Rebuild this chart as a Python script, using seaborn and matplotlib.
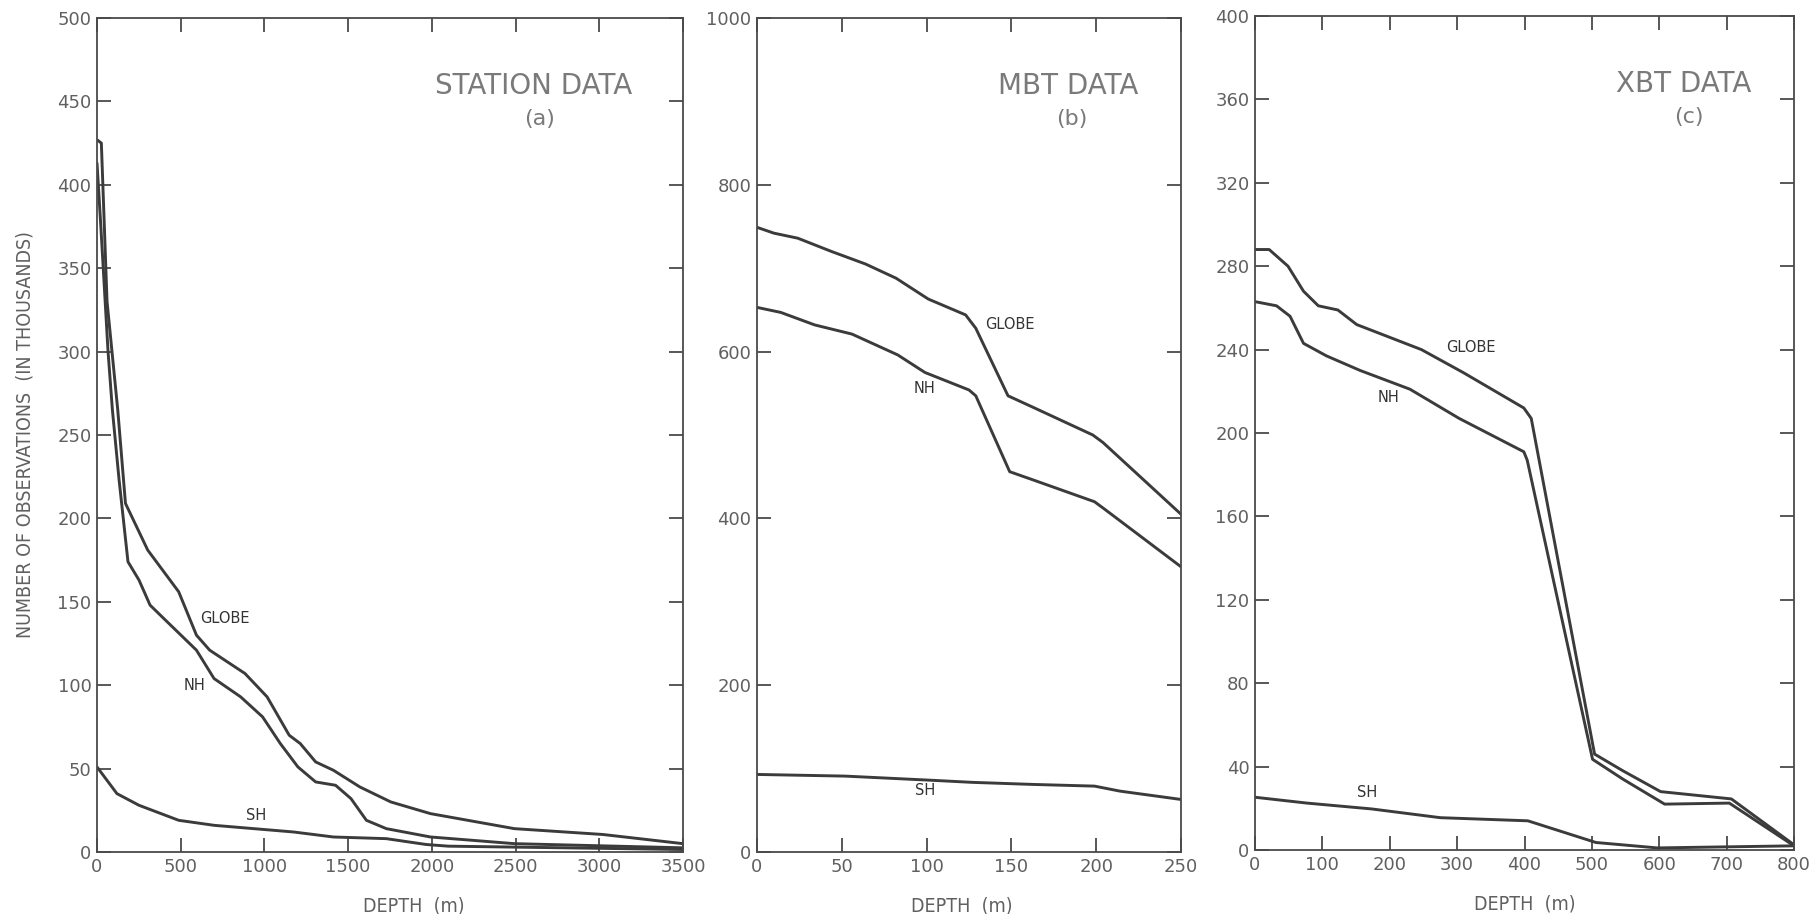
import matplotlib
matplotlib.use("Agg")
import matplotlib.pyplot as plt
import seaborn as sns
import pandas as pd

# ---------------- data ----------------
# (a) STATION DATA  depth in m, counts in thousands
st_globe_depth = [0, 26, 60, 124, 170, 303, 488, 594, 673, 884, 1016, 1148, 1214, 1306, 1412, 1570, 1755, 1992, 2493, 3021, 3500]
st_globe_val = [427, 425, 330, 265, 209, 181, 156, 130, 121, 107, 93, 70, 65, 54, 49, 39, 30, 23, 14, 10.5, 5]
st_nh_depth = [0, 20, 66, 92, 132, 185, 251, 317, 409, 594, 699, 858, 989, 1095, 1200, 1306, 1425, 1517, 1609, 1728, 1992, 2493, 3500]
st_nh_val = [413, 380, 300, 265, 223, 174, 163, 148, 139, 121, 104, 93, 81, 65, 51, 42, 40, 32, 19, 14, 9, 5, 2.5]
st_sh_depth = [0, 119, 251, 488, 699, 1174, 1412, 1728, 1966, 2098, 3500]
st_sh_val = [51, 35, 28, 19, 16, 12, 9, 8, 4.5, 3.5, 1.5]

# (b) MBT DATA
mbt_globe_depth = [0, 10, 24, 44, 64, 82, 101, 123, 129, 148, 163, 198, 204, 250]
mbt_globe_val = [749, 742, 736, 720, 705, 688, 663, 644, 628, 547, 533, 500, 491, 405]
mbt_nh_depth = [0, 14, 34, 56, 83, 99, 125, 129, 149, 163, 199, 205, 250]
mbt_nh_val = [653, 647, 632, 621, 596, 575, 554, 547, 456, 446, 420, 411, 342]
mbt_sh_depth = [0, 52, 103, 127, 163, 199, 214, 250]
mbt_sh_val = [93, 91, 86, 83.5, 81, 79, 73, 63]

# (c) XBT DATA
xbt_globe_depth = [0, 21, 49, 72, 94, 123, 151, 247, 309, 399, 410, 504, 546, 602, 707, 800]
xbt_globe_val = [288, 288, 280, 268, 261, 259, 252, 240, 229, 212, 207, 46, 38, 28, 24.5, 2.5]
xbt_nh_depth = [0, 32, 52, 72, 106, 156, 230, 303, 399, 404, 501, 546, 608, 704, 800]
xbt_nh_val = [263, 261, 256, 243, 237, 230, 221, 207, 191, 187, 43.5, 34, 22, 22.5, 2]
xbt_sh_depth = [0, 77, 173, 207, 275, 405, 506, 597, 800]
xbt_sh_val = [25.3, 22.5, 19.7, 18.3, 15.5, 14, 3.6, 1, 2]

panel_titles = ["STATION DATA", "MBT DATA", "XBT DATA"]
panel_tags = ["(a)", "(b)", "(c)"]
series_names = ["GLOBE", "NH", "SH"]
x_limits = [(0, 3500), (0, 250), (0, 800)]
y_limits = [(0, 500), (0, 1000), (0, 400)]
x_ticks = [[0, 500, 1000, 1500, 2000, 2500, 3000, 3500],
           [0, 50, 100, 150, 200, 250],
           [0, 100, 200, 300, 400, 500, 600, 700, 800]]
y_ticks = [[0, 50, 100, 150, 200, 250, 300, 350, 400, 450, 500],
           [0, 200, 400, 600, 800, 1000],
           [0, 40, 80, 120, 160, 200, 240, 280, 320, 360, 400]]
# label anchor positions (data coords) for series names
label_pos = [
    {"GLOBE": (765, 140), "NH": (580, 100), "SH": (950, 22)},
    {"GLOBE": (149, 633), "NH": (99, 556), "SH": (99, 74)},
    {"GLOBE": (320, 241), "NH": (198, 217), "SH": (167, 27.5)},
]
title_xfrac = [0.745, 0.733, 0.795]
xlabel_xfrac = [0.54, 0.483, 0.50]

panels = [
    {"GLOBE": (st_globe_depth, st_globe_val), "NH": (st_nh_depth, st_nh_val), "SH": (st_sh_depth, st_sh_val)},
    {"GLOBE": (mbt_globe_depth, mbt_globe_val), "NH": (mbt_nh_depth, mbt_nh_val), "SH": (mbt_sh_depth, mbt_sh_val)},
    {"GLOBE": (xbt_globe_depth, xbt_globe_val), "NH": (xbt_nh_depth, xbt_nh_val), "SH": (xbt_sh_depth, xbt_sh_val)},
]

# ---------------- style ----------------
sns.set_theme(style="ticks")
plt.rcParams["font.family"] = ["DejaVu Sans"]
LINE = "#3b3b3b"
SPINE = "#4a4a4a"
TXT = "#606060"
TITLE = "#7a7a7a"
COND = dict(family="DejaVu Sans", stretch="condensed")

fig = plt.figure(figsize=(18.14, 9.14), dpi=100)
fig.patch.set_facecolor("white")
rects = [
    [97 / 1814, 1 - 852 / 914, 586 / 1814, 834 / 914],
    [757 / 1814, 1 - 852 / 914, 424 / 1814, 834 / 914],
    [1255 / 1814, 1 - 850 / 914, 539 / 1814, 834 / 914],
]

for i, rect in enumerate(rects):
    ax = fig.add_axes(rect)
    rows = []
    for name in series_names:
        xs, ys = panels[i][name]
        for k, (x, y) in enumerate(zip(xs, ys)):
            rows.append({"depth": x, "count": y, "series": name, "order": k})
    df = pd.DataFrame(rows)
    sns.lineplot(data=df, x="depth", y="count", hue="series", units="series",
                 estimator=None, sort=False, palette={n: LINE for n in series_names},
                 linewidth=2.1, legend=False, ax=ax)
    ax.set_xlim(*x_limits[i])
    ax.set_ylim(*y_limits[i])
    ax.set_xticks(x_ticks[i])
    ax.set_yticks(y_ticks[i])
    ax.tick_params(direction="in", length=10, width=1.3, color=SPINE,
                   top=True, right=True, labelsize=13, labelcolor=TXT, pad=4)
    for s in ax.spines.values():
        s.set_color(SPINE)
        s.set_linewidth(1.3)
        s.set_visible(True)
    ax.set_xlabel("DEPTH  (m)", fontsize=14, color=TXT, **COND)
    ax.xaxis.set_label_coords(xlabel_xfrac[i], -0.053)
    ax.set_ylabel("")
    for name in series_names:
        lx, ly = label_pos[i][name]
        ax.text(lx, ly, name, fontsize=10.5, color="#333333", ha="center", va="center")
    ax.text(title_xfrac[i], 0.918, panel_titles[i], transform=ax.transAxes,
            fontsize=20, color=TITLE, ha="center", va="center")
    ax.text(title_xfrac[i] + 0.01, 0.879, panel_tags[i], transform=ax.transAxes,
            fontsize=16, color=TITLE, ha="center", va="center")
    if i == 0:
        ax.set_ylabel("NUMBER OF OBSERVATIONS  (IN THOUSANDS)", fontsize=14, color=TXT, **COND)
        ax.yaxis.set_label_coords(-0.106, 0.50)

fig.savefig("out.png", dpi=100, facecolor="white")
